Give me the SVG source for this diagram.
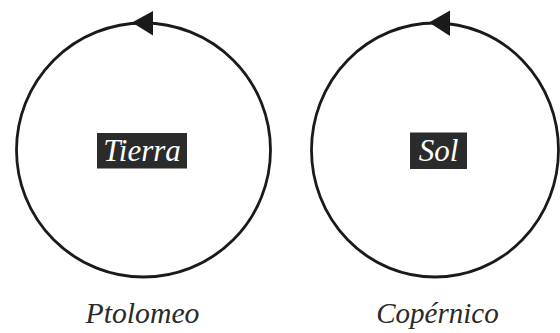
<svg xmlns="http://www.w3.org/2000/svg" width="560" height="333" viewBox="0 0 560 333">
<style>
.orbit{fill:none;stroke:#1a1a1a;stroke-width:2.8}
.head{fill:#1a1a1a;stroke:none}
.box{fill:#2b2b2b}
.lbl{font-family:"Liberation Serif","DejaVu Serif",serif;font-style:italic;fill:#ffffff;font-size:31px;text-anchor:middle}
.cap{font-family:"Liberation Serif","DejaVu Serif",serif;font-style:italic;fill:#2a2a2a;font-size:29px;text-anchor:middle}
</style>
<rect width="560" height="333" fill="#ffffff"/>
<g id="connectors">
<circle class="orbit" cx="143.5" cy="150" r="127"/>
<path class="head" d="M132,22.5 L153,11 L153,35.5 Z"/>
<ellipse class="orbit" cx="435" cy="150" rx="123.5" ry="127"/>
<path class="head" d="M429,22.5 L450,10.5 L450,36 Z"/>
</g>
<g id="tierra">
<rect class="box" x="97" y="133" width="90" height="35.5"/>
<text class="lbl" x="142" y="161">Tierra</text>
</g>
<g id="sol">
<rect class="box" x="410" y="132.5" width="57" height="36.5"/>
<text class="lbl" x="438.5" y="161">Sol</text>
</g>
<g id="ptolomeo">
<text class="cap" x="142.5" y="323" textLength="114" lengthAdjust="spacingAndGlyphs">Ptolomeo</text>
</g>
<g id="copernico">
<text class="cap" x="437.5" y="323">Copérnico</text>
</g>
</svg>
